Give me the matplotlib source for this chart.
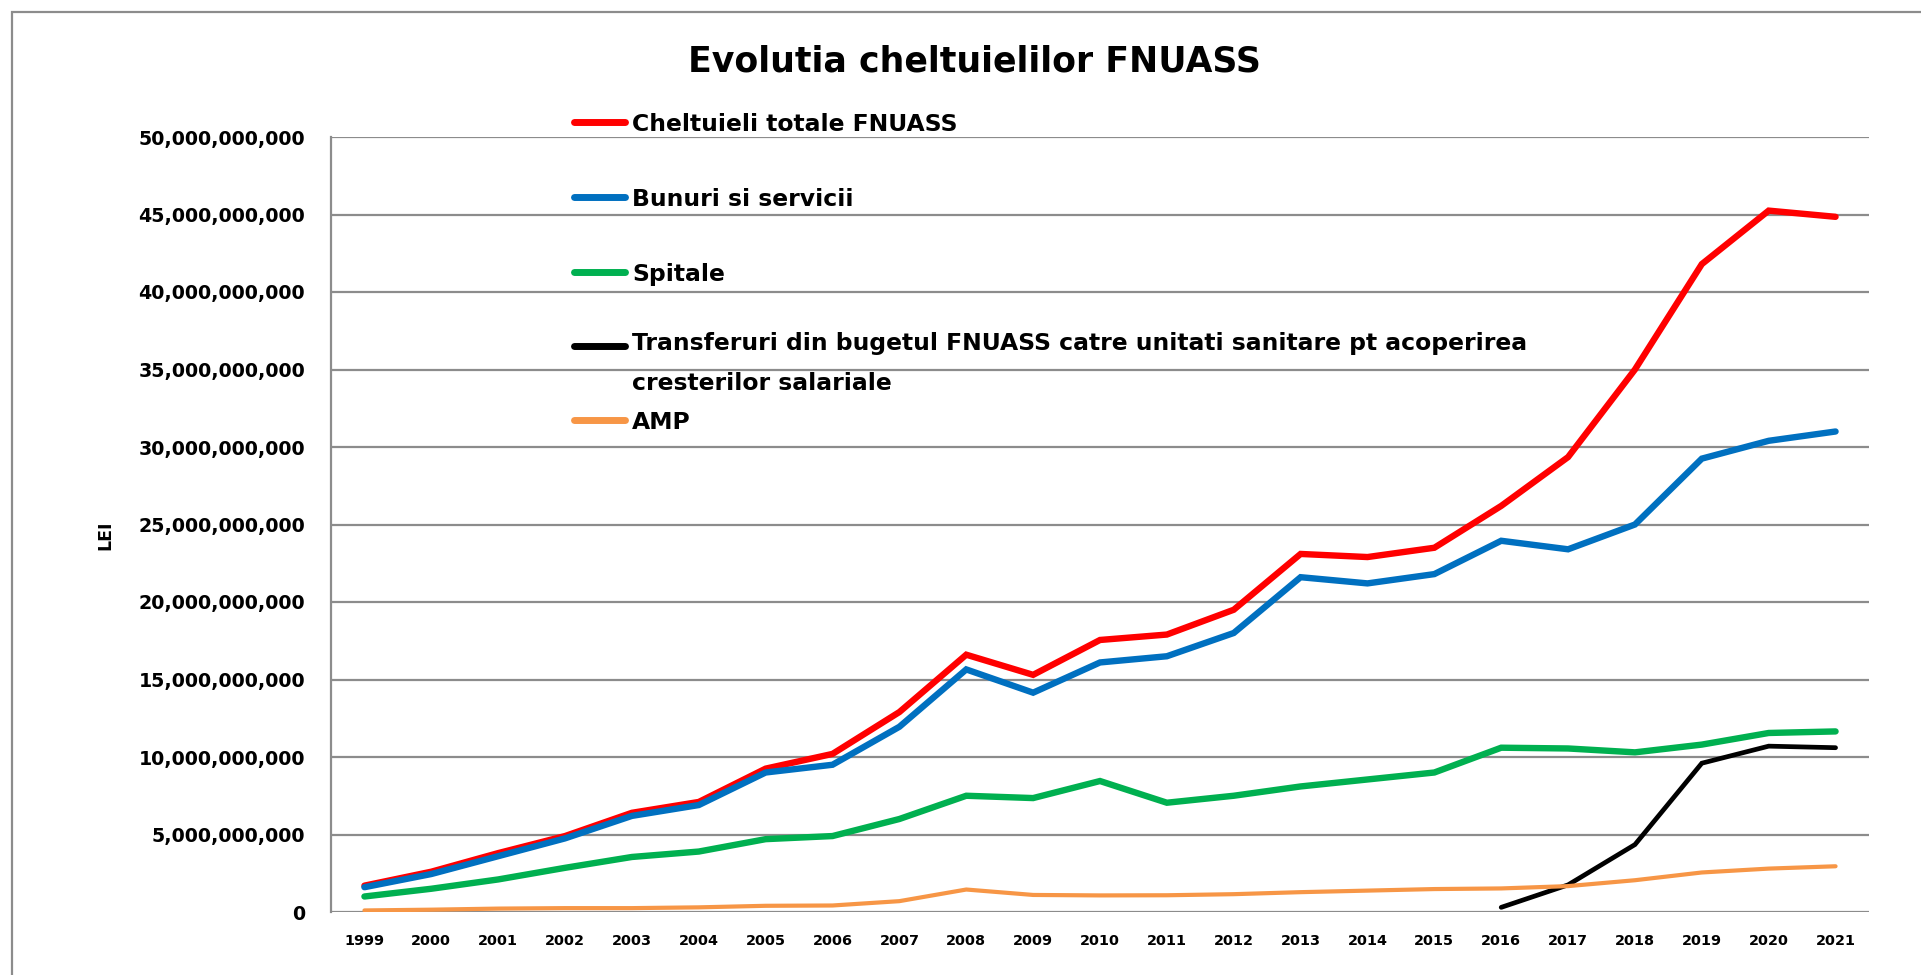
import matplotlib

matplotlib.use("Agg")
import matplotlib.pyplot as plt
import numpy as np
from matplotlib.lines import Line2D
from matplotlib.patches import Rectangle
from matplotlib.ticker import FuncFormatter

plt.rcParams["font.family"] = ["DejaVu Sans"]
plt.rcParams["font.weight"] = "bold"

years = [str(y) for y in range(1999, 2022)]

# values in billions of lei
total_bn = [1.7, 2.6, 3.8, 4.9, 6.4, 7.1, 9.25, 10.2, 12.9, 16.6, 15.3, 17.55, 17.9,
            19.5, 23.1, 22.9, 23.5, 26.2, 29.35, 35.0, 41.8, 45.25, 44.85]
bunuri_bn = [1.6, 2.45, 3.6, 4.75, 6.2, 6.9, 9.0, 9.5, 11.95, 15.65, 14.15, 16.1, 16.5,
             18.0, 21.6, 21.2, 21.8, 23.95, 23.4, 25.0, 29.25, 30.4, 31.0]
spitale_bn = [1.0, 1.5, 2.1, 2.85, 3.55, 3.9, 4.7, 4.9, 6.0, 7.5, 7.35, 8.45, 7.05,
              7.5, 8.1, 8.55, 9.0, 10.6, 10.55, 10.3, 10.8, 11.55, 11.65]
transf_bn = [np.nan] * 17 + [0.3, 1.75, 4.35, 9.6, 10.7, 10.6]
amp_bn = [0.1, 0.15, 0.22, 0.25, 0.25, 0.3, 0.4, 0.42, 0.7, 1.45, 1.1, 1.07, 1.08,
          1.15, 1.28, 1.38, 1.48, 1.52, 1.67, 2.05, 2.55, 2.8, 2.95]

labels = [
    "Cheltuieli totale FNUASS",
    "Bunuri si servicii",
    "Spitale",
    "Transferuri din bugetul FNUASS catre unitati sanitare pt acoperirea\ncresterilor salariale",
    "AMP",
]
colors = ["#FF0000", "#0070C0", "#00B050", "#000000", "#F79646"]
widths = [4.6, 4.6, 4.6, 3.4, 3.0]
series = [total_bn, bunuri_bn, spitale_bn, transf_bn, amp_bn]

W, H = 1921, 975
fig = plt.figure(figsize=(W / 100, H / 100), dpi=100)
ax = fig.add_axes([331 / W, 1 - 912 / H, (1869 - 331) / W, (912 - 137) / H])

x = np.arange(len(years))
for vals, col, lw in zip(series, colors, widths):
    ax.plot(x, np.array(vals) * 1e9, color=col, linewidth=lw, solid_capstyle="round",
            solid_joinstyle="miter", zorder=3)

ax.set_xlim(-0.5, len(years) - 0.5)
ax.set_ylim(0, 50e9)
ax.set_yticks(np.arange(0, 50e9 + 1, 5e9))
ax.yaxis.set_major_formatter(FuncFormatter(lambda v, _: f"{v:,.0f}"))
ax.set_xticks(x)
ax.set_xticklabels(years)
ax.tick_params(axis="y", length=0, pad=18.7, labelsize=13.7)
ax.tick_params(axis="x", length=0, pad=15.5, labelsize=10.4)
ax.grid(axis="y", color="#8c8c8c", linewidth=1.6)
ax.set_axisbelow(True)
for s in ["top", "right", "bottom"]:
    ax.spines[s].set_visible(False)
ax.spines["left"].set_color("#8c8c8c")
ax.spines["left"].set_linewidth(1.6)
ax.set_ylabel("LEI", fontsize=12.5, fontweight="bold", labelpad=0)
ax.yaxis.set_label_coords((114 - 331) / (1869 - 331), (912 - 535) / (912 - 137))

fig.text(974 / W, 1 - 62 / H, "Evolutia cheltuielilor FNUASS", ha="center", va="center",
         fontsize=25)

# legend drawn by hand, placed like the Excel one
leg_y = [122, 197, 272, 346, 420]
for lab, col, yy in zip(labels, colors, leg_y):
    fig.add_artist(Line2D([574 / W, 625 / W], [1 - yy / H] * 2, color=col, linewidth=5,
                          solid_capstyle="round", transform=fig.transFigure))
    if "\n" in lab:
        fig.text(632 / W, 1 - (yy - 14) / H, lab, ha="left", va="top", fontsize=16.9,
                 linespacing=1.95)
    else:
        fig.text(632 / W, 1 - yy / H, lab, ha="left", va="center_baseline", fontsize=16.9)

fig.add_artist(Rectangle((12 / W, -0.05), 1.1, 1 - 12 / H + 0.05, fill=False,
                         edgecolor="#8c8c8c", linewidth=1.6, transform=fig.transFigure))

fig.savefig("out.png", dpi=100)
